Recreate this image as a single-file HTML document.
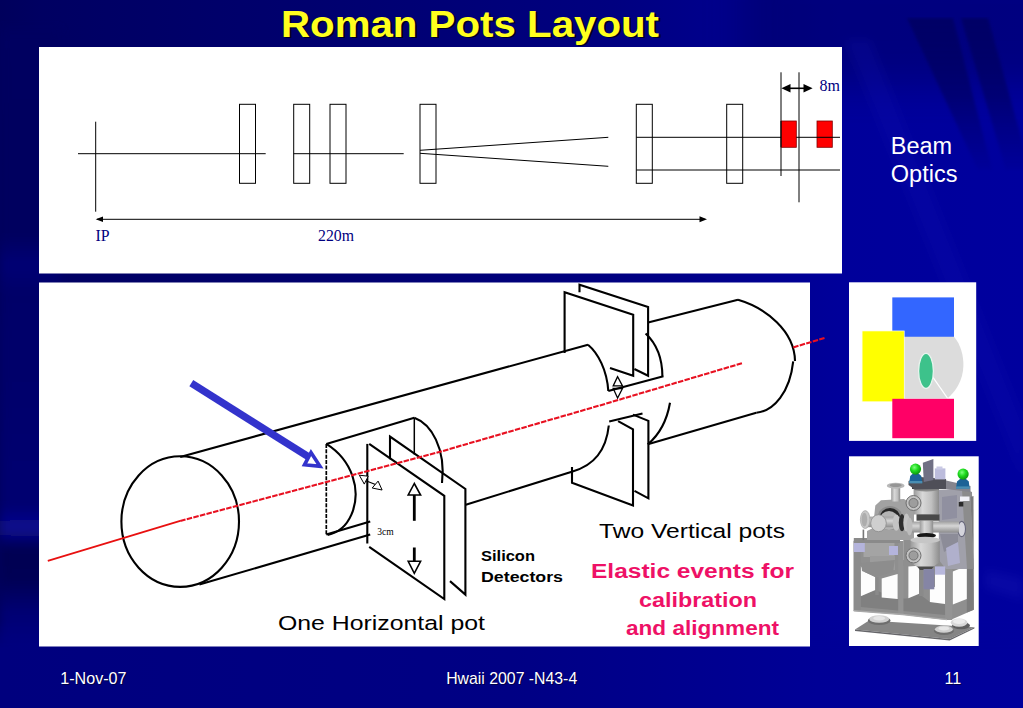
<!DOCTYPE html>
<html><head><meta charset="utf-8"><title>Roman Pots Layout</title>
<style>
html,body{margin:0;padding:0;background:#000070;overflow:hidden}
svg{display:block}
text{font-family:"Liberation Sans",sans-serif}
.ser{font-family:"Liberation Serif",serif}
</style></head><body>
<svg width="1023" height="708" viewBox="0 0 1023 708">
<defs>
<linearGradient id="bgx" x1="0" y1="0" x2="1" y2="0">
<stop offset="0" stop-color="#00005c"/><stop offset="0.04" stop-color="#000062"/><stop offset="0.3" stop-color="#00006e"/><stop offset="0.6" stop-color="#000080"/><stop offset="0.82" stop-color="#00009a"/><stop offset="1" stop-color="#00009e"/>
</linearGradient>
<linearGradient id="fadeY" x1="0" y1="0" x2="0" y2="1">
<stop offset="0" stop-color="#fff" stop-opacity="1"/><stop offset="0.5" stop-color="#fff" stop-opacity="0.8"/><stop offset="1" stop-color="#fff" stop-opacity="0"/>
</linearGradient>
<mask id="mfade" maskUnits="userSpaceOnUse" x="850" y="0" width="180" height="200"><rect x="850" y="17" width="180" height="160" fill="url(#fadeY)"/></mask>
<filter id="blur2" x="-10%" y="-10%" width="120%" height="120%"><feGaussianBlur stdDeviation="1.5"/></filter>
<filter id="blur5" x="-20%" y="-20%" width="140%" height="140%"><feGaussianBlur stdDeviation="5"/></filter>
<linearGradient id="leftv" x1="0" y1="0" x2="0" y2="1">
<stop offset="0" stop-color="#000060"/><stop offset="0.30" stop-color="#00005e"/><stop offset="0.345" stop-color="#000074"/><stop offset="0.39" stop-color="#000068"/>
<stop offset="0.70" stop-color="#000070"/><stop offset="0.735" stop-color="#0a0a90"/><stop offset="0.765" stop-color="#000052"/><stop offset="0.81" stop-color="#000054"/>
<stop offset="0.86" stop-color="#000074"/><stop offset="0.93" stop-color="#000080"/><stop offset="1" stop-color="#000080"/>
</linearGradient>
<linearGradient id="both" x1="0" y1="0" x2="1" y2="0">
<stop offset="0" stop-color="#00007e"/><stop offset="0.5" stop-color="#000084"/><stop offset="0.8" stop-color="#000096"/><stop offset="1" stop-color="#00009c"/>
</linearGradient>
<linearGradient id="fadeUp" x1="0" y1="0" x2="0" y2="1"><stop offset="0" stop-color="#fff" stop-opacity="0"/><stop offset="1" stop-color="#fff" stop-opacity="1"/></linearGradient>
<mask id="mbot" maskUnits="userSpaceOnUse" x="0" y="600" width="1023" height="108"><rect x="0" y="620" width="1023" height="30" fill="url(#fadeUp)"/><rect x="0" y="650" width="1023" height="60" fill="#fff"/></mask>
<filter id="blur20" x="-30%" y="-60%" width="160%" height="220%"><feGaussianBlur stdDeviation="18"/></filter>
</defs>
<rect x="0" y="0" width="1023" height="708" fill="url(#bgx)"/>
<rect x="0" y="30" width="60" height="678" fill="url(#leftv)" filter="url(#blur5)"/>
<rect x="0" y="600" width="1023" height="108" fill="url(#both)" mask="url(#mbot)"/>
<rect x="740" y="-40" width="330" height="125" fill="#000058" opacity="0.42" filter="url(#blur20)"/>
<g mask="url(#mfade)"><g filter="url(#blur2)">
<polygon points="907,18 953,18 992,170 978,170" fill="#00005c" opacity="0.7"/>
<polygon points="961,18 988,18 1030,170 1006,170" fill="#00005c" opacity="0.7"/>
</g></g>
<g filter="url(#blur5)" opacity="0.22">
<polygon points="845,40 870,40 1023,420 1023,480" fill="#1414b4"/>
<polygon points="985,570 1023,578 1023,600 985,588" fill="#2828c0"/>
</g>

<g id="title" font-size="37" font-weight="bold">
<text x="281" y="36.5" textLength="378" lengthAdjust="spacingAndGlyphs" fill="#000018" opacity="0.9" transform="translate(1.8,1.8)">Roman Pots Layout</text>
<text x="281" y="36.5" textLength="378" lengthAdjust="spacingAndGlyphs" fill="#ffff1e">Roman Pots Layout</text>
</g>

<g id="top">
<rect x="39" y="47" width="803" height="226.5" fill="#fff"/>
<g stroke="#000" stroke-width="1" fill="none">
<path d="M95.7 121.7L95.7 211.7"/>
<path d="M78 153.7L265.7 153.7"/>
<rect x="239.5" y="104.3" width="16.0" height="79.0"/>
<rect x="293.7" y="104.3" width="16.0" height="79.0"/>
<rect x="330" y="104.3" width="16" height="79.0"/>
<rect x="420" y="104.3" width="16" height="79.0"/>
<rect x="636.3" y="104.3" width="16.0" height="79.0"/>
<rect x="726.7" y="104.3" width="16.0" height="79.0"/>
<path d="M293.7 153.7L403.7 153.7"/>
<path d="M420 150.3L608.3 137.3"/>
<path d="M420 153.3L608.3 166.3"/>
<path d="M636.3 137.3L781 137.3"/>
<path d="M636.3 170L840 170"/>
<path d="M781 72.3L781 176"/>
<path d="M799 72.3L799 202.3"/>
<path d="M97 219.3L705 219.3"/>
<path d="M786 88.3H808" stroke-width="1.6"/>
</g>
<polygon points="95.7,219.3 103,216.6 103,222" fill="#000"/>
<polygon points="707,219.3 699.5,216.3 699.5,222.3" fill="#000"/>
<polygon points="781.4,88.3 790.5,84.1 790.5,92.5" fill="#000"/>
<polygon points="812.6,88.3 803.5,84.1 803.5,92.5" fill="#000"/>
<rect x="781.3" y="121" width="15" height="26.3" fill="#ff0000" stroke="#800000" stroke-width="0.8"/>
<rect x="817" y="121" width="15.3" height="26.3" fill="#ff0000" stroke="#800000" stroke-width="0.8"/>
<path stroke="#000" stroke-width="1" d="M781 121L781 147.3"/>
<path d="M796.3 137.3H840" stroke="#000" stroke-width="1"/>
<text class="ser" x="95.5" y="240.6" font-size="15.8" fill="#000080">IP</text>
<text class="ser" x="318" y="240.6" font-size="15.8" fill="#000080">220m</text>
<text class="ser" x="819.6" y="91" font-size="16" fill="#000080">8m</text>
</g>

<g id="cyl">
<rect x="39" y="282.5" width="771" height="364" fill="#fff"/>
<g stroke="#000" stroke-width="2.1" fill="none" stroke-linecap="butt" stroke-linejoin="miter">
<ellipse cx="180.2" cy="521.6" rx="58.8" ry="65.3"/>
<path d="M180.2 457L588 344.7"/>
<path d="M588 344.7C598 353 607 370 608.3 391"/>
<path d="M608.3 391L663.4 376.3"/>
<path d="M199.4 584.6L370.2 534.6"/>
<path d="M465.8 504.8L572.6 471.4"/>
<path d="M572.6 471.4C592 466 606 452 608.8 425.5"/>
<path d="M326.3 443.9L414.3 417.8"/>
<path d="M326.3 443.9V534.5" stroke-dasharray="4 1.4" stroke-width="1.7"/>
<path d="M414.3 417.8V454.5" stroke-width="1.5"/>
<path d="M414.3 417.8C431 424 446 448 442 483"/>
<path d="M326.3 443.9C352 460 362 490 351.4 514.7C346 527 338 533 327.7 534.9"/>
<path d="M326.3 534.5L370.2 521.5"/>
<path d="M367.3 443.9V543.5"/>
<path d="M369.2 443.9L444.3 495.9V599L369.2 546.9"/>
<path d="M390 459.3V436.6L465.4 489V594.6L450 581.1"/>
<path d="M564.6 352.9V292.2L633.2 314.7V375.8L610 368.1"/>
<path d="M579.5 292.2V284.7L648.1 307.1V375.8L634.4 369"/>
<path d="M645.6 333.4C657 344 662.4 358 662.4 376.6"/>
<path d="M648.1 322.4L738 299.8"/>
<path d="M738 299.8C766 308 794.5 331 795 360.9"/>
<path d="M793.2 361.4C790 392 774 411 756.3 412.8"/>
<path d="M756.3 412.8L647.8 444.3"/>
<path d="M670 402.7C667 420 660 434 647.8 444.3"/>
<path d="M609.2 421.5L642.5 413.6"/>
<path d="M633 414.6L648.4 420.9V498.3L634.5 490.8"/>
<path d="M618.1 421.1L633 429.4V505.6L572 482.8V467"/>
</g>
<g stroke="#000" fill="#fff">
<path d="M414.3 483.5L408.2 495H420.6Z" stroke-width="1.6"/>
<path d="M414.3 495V520.8" stroke-width="2.8" fill="none"/>
<path d="M414.3 547.5V561.3" stroke-width="2.8" fill="none"/>
<path d="M408.2 561.3H420.6L414.3 573.3Z" stroke-width="1.6"/>
<path d="M364 480L378 485.5" stroke-width="1.2"/>
<path d="M359.3 475.2L368.2 476.2L364.3 484.1Z" stroke-width="1"/>
<path d="M382.1 490L372.2 488L378.1 481.1Z" stroke-width="1"/>
<path d="M617.6 376.6L613.2 385.9H622.5Z" stroke-width="1.3" fill="none"/>
<path d="M613.2 388.5H622.5L617.6 398.1Z" stroke-width="1.3" fill="none"/>
</g>
<path d="M47.8 560.9L180.2 520.9" stroke="#e81010" stroke-width="1.8" fill="none"/>
<path d="M180.2 520.9L440 451.8L600 405.4L742.3 363.1" stroke="#e81020" stroke-width="2.1" fill="none" stroke-dasharray="5.5 1.3"/>
<path d="M793.2 347.4L824.5 338" stroke="#e81020" stroke-width="2.1" fill="none" stroke-dasharray="5.5 1.3"/>
<path d="M191.3 383.2L309 457.2" stroke="#3333cc" stroke-width="7.3" fill="none"/>
<path d="M311 452.5L304.5 464.8L320 466.3Z" stroke="#3333cc" stroke-width="3.6" fill="#fff" stroke-linejoin="miter"/>
<text class="ser" x="377.3" y="534.5" font-size="9.5" fill="#000">3cm</text>
</g>

<g id="right">
<rect x="849" y="282.3" width="127.2" height="158.6" fill="#fff"/>
<rect x="892.3" y="297.4" width="61.7" height="39.6" fill="#3366ff"/>
<path d="M903 336.8H954C961 345 963.6 356 963.4 366C963 380 956 391 947.4 398.6H903Z" fill="#dcdcdc"/>
<path d="M932.5 376.7L947.8 398.6" stroke="#fff" stroke-width="1.2" fill="none"/>
<ellipse cx="926" cy="370.9" rx="7.4" ry="17.6" fill="#3dc28b" stroke="#e8f4ee" stroke-width="1.3"/>
<rect x="861.8" y="330.6" width="42.8" height="71.4" fill="#ffffe0"/>
<rect x="862.5" y="331.3" width="41.4" height="70" fill="#ffff00"/>
<rect x="892.3" y="398.8" width="61.7" height="39.4" fill="#ff0066"/>
<rect x="849" y="456.3" width="129.7" height="189.7" fill="#fff"/>
</g>

<g id="cad">
<defs><filter id="b05" x="-5%" y="-5%" width="110%" height="110%"><feGaussianBlur stdDeviation="0.55"/></filter>
<radialGradient id="gball" cx="0.4" cy="0.35" r="0.7"><stop offset="0" stop-color="#7dff7d"/><stop offset="0.45" stop-color="#1fdc1f"/><stop offset="1" stop-color="#0a8a0a"/></radialGradient>
<linearGradient id="cylg" x1="0" x2="1" y1="0" y2="0"><stop offset="0" stop-color="#9a9a9a"/><stop offset="0.35" stop-color="#d8d8d8"/><stop offset="0.7" stop-color="#c0c0c0"/><stop offset="1" stop-color="#8c8c8c"/></linearGradient>
<linearGradient id="cylv" x1="0" x2="0" y1="0" y2="1"><stop offset="0" stop-color="#a0a0a0"/><stop offset="0.4" stop-color="#d6d6d6"/><stop offset="1" stop-color="#8e8e8e"/></linearGradient>
</defs>
<g filter="url(#b05)">
<polygon points="855,629.6 869,620.5 974.4,627.2 949.6,639" fill="#858585"/>
<polygon points="855,629.6 949.6,639 974.4,627.2 974.4,628.6 949.6,640.6 855,631" fill="#66666a"/>
<polygon points="853.7,541 900,541 900,560 946,560 946,500 960,488 972,492 973.8,609.7 952.1,619.3 947,620 902.7,614.8 853.7,611" fill="#8f8f8f"/>
<polygon points="860.7,596.3 875.3,590 897.6,598.9 908.4,598.2 919.1,593.8 929.9,602 945.2,604 945.2,615 902.7,611 860.7,607" fill="#808080"/>
<polygon points="966.8,498 973.5,496 973.8,609.7 966.8,612.5" fill="#7c7c7c"/>
<polygon points="860.7,566 865.2,572.2 875.3,577.3 875.3,590 860.7,596.3" fill="#fdfdfd"/>
<polygon points="881.7,578.5 897.6,574 897.6,598.9 881.7,597.6" fill="#fdfdfd"/>
<polygon points="908.4,566.4 919.1,565.8 919.1,593.8 908.4,598.2" fill="#fdfdfd"/>
<polygon points="929.9,588.7 935,586.8 935,574 945.2,574 945.2,604 929.9,602" fill="#fdfdfd"/>
<polygon points="952.8,571.5 966.8,565.8 966.8,598.9 952.8,604.6" fill="#fdfdfd"/>
<rect x="853.7" y="541" width="7" height="70" fill="#8b8b8b"/>
<rect x="898.2" y="541" width="5.2" height="73.5" fill="#939393"/>
<rect x="945.2" y="560" width="7" height="60" fill="#949494"/>
<rect x="919.1" y="566" width="4.6" height="30" fill="#8a8a8a"/>
<polygon points="853.7,610 902.7,613.8 947,619 947,620.3 902.7,615.2 853.7,611.4" fill="#a9a9a9"/>
<ellipse cx="879.2" cy="620.6" rx="11.4" ry="4.3" fill="#6e6e6e"/>
<ellipse cx="879.2" cy="619" rx="10" ry="3.8" fill="#d2d2d2"/>
<ellipse cx="879.2" cy="618.2" rx="6" ry="2.2" fill="#e6e6e6"/>
<ellipse cx="943.9" cy="631" rx="10" ry="4" fill="#6e6e6e"/>
<ellipse cx="943.9" cy="629.2" rx="9" ry="3.6" fill="#cfcfcf"/>
<ellipse cx="943.9" cy="628.4" rx="5.5" ry="2" fill="#e6e6e6"/>
<ellipse cx="961" cy="625.6" rx="9" ry="3.6" fill="#5e5e5e"/>
<ellipse cx="959.1" cy="622.6" rx="8.4" ry="4.2" fill="#d8d8d8"/>
<ellipse cx="959.1" cy="621.4" rx="6" ry="2.6" fill="#ececec"/>
<rect x="863.5" y="541" width="31" height="16" fill="#a4a4a4"/>
<rect x="870" y="556" width="25" height="14" fill="#9c9c9c"/>
<polygon points="861,563 895,560 893,572 876,577 862,571" fill="#8d8d8d"/>
<rect x="853.8" y="540" width="11" height="12" fill="#b4b4dc"/>
<rect x="889" y="546" width="9" height="9" fill="#b4b4dc"/>
<rect x="875.3" y="577" width="3.4" height="18" fill="#8a8a8a"/>
<polygon points="853.8,538 900,538 900,543 853.8,543" fill="#8a8a8a"/>
<polygon points="875.3,505.4 881,500.3 904,499 914,505.4 914,540 867,540 867,531 873,528" fill="#a2a2a2"/>
<polygon points="903.3,540 914,540 914,566 903.3,566" fill="#8f8f8f"/>
<ellipse cx="890" cy="518" rx="12.5" ry="12" fill="#8c8c8c"/>
<ellipse cx="890" cy="518.5" rx="10.5" ry="10.5" fill="#262626"/>
<ellipse cx="889" cy="520.5" rx="9.5" ry="9.5" fill="#b4b4b4"/>
<rect x="862.6" y="529.6" width="1.6" height="10.5" fill="#777"/>
<rect x="865" y="516.6" width="40" height="10.6" fill="url(#cylv)"/>
<ellipse cx="865.2" cy="519.6" rx="4.8" ry="9" fill="#c8c8c8" stroke="#9a9a9a" stroke-width="0.6"/>
<ellipse cx="864.4" cy="519.6" rx="2.8" ry="6.8" fill="#adadad"/>
<ellipse cx="878.5" cy="523.2" rx="7.8" ry="8.5" fill="#cfcfcf" stroke="#8a8a8a" stroke-width="0.8"/>
<ellipse cx="896.3" cy="522.6" rx="3.6" ry="8.2" fill="#c4c4c4"/>
<ellipse cx="902" cy="522.6" rx="3.2" ry="8.6" fill="#2e2e2e"/>
<ellipse cx="906.5" cy="522.6" rx="3.2" ry="9" fill="#c4c4c4"/>
<rect x="891.2" y="487" width="9" height="14.5" fill="url(#cylg)"/>
<ellipse cx="895.7" cy="485.7" rx="8.9" ry="3" fill="#b8b8b8"/>
<ellipse cx="895.7" cy="485.2" rx="6" ry="1.7" fill="#959595"/>
<polygon points="938.8,490 965,488 970,490 973.8,569 946,569 938.8,560" fill="#a0a0aa"/>
<polygon points="962,490 970,490 973.8,569 967,569" fill="#8c8c8c"/>
<polygon points="942,497 957,495 957,518 942,520" fill="#9090a0"/>
<polygon points="940,534 958,534 958,545 944,552" fill="#8c8c98"/>
<polygon points="946,548 958,542 960,563 948,566" fill="#b0b0cc"/>
<rect x="960" y="496.5" width="9.5" height="4.5" fill="#f2f2f8"/>
<rect x="958.8" y="502" width="4.5" height="4.5" fill="#2a2a2a"/>
<ellipse cx="961.7" cy="529" rx="3.8" ry="7.6" fill="#d4d4dc" stroke="#66667a" stroke-width="1.1"/>
<rect x="909" y="521.5" width="50" height="11" fill="url(#cylv)"/>
<ellipse cx="909.5" cy="526.5" rx="3" ry="9" fill="#bcbcbc"/>
<rect x="913.6" y="489" width="25.4" height="25.5" fill="url(#cylg)"/>
<rect x="916.5" y="514.3" width="23" height="6.4" fill="#4a4a4a"/>
<ellipse cx="926.4" cy="489" rx="12.6" ry="2.6" fill="#8a8a8a"/>
<polygon points="912,484 941,484 941,489 912,489" fill="#3c3c40"/>
<ellipse cx="913.5" cy="503" rx="7.5" ry="7.5" fill="#c2c2c2" stroke="#6f6f6f" stroke-width="1"/>
<ellipse cx="913.5" cy="503" rx="4.6" ry="4.6" fill="#9d9d9d" stroke="#5c5c5c" stroke-width="0.7"/>
<rect x="919.7" y="520.7" width="13.5" height="14" fill="url(#cylg)"/>
<ellipse cx="926.4" cy="535.6" rx="9.6" ry="2.6" fill="#161616"/>
<polygon points="910.5,540 939.8,540 939.8,562 933,567 917,567 910.5,562" fill="url(#cylg)"/>
<ellipse cx="925.2" cy="540" rx="14.7" ry="3.3" fill="#c6c6c6"/>
<ellipse cx="913.5" cy="555.5" rx="7.5" ry="7.5" fill="#c2c2c2" stroke="#6f6f6f" stroke-width="1"/>
<ellipse cx="913.5" cy="555.5" rx="4.6" ry="4.6" fill="#9d9d9d" stroke="#5c5c5c" stroke-width="0.7"/>
<polygon points="917,566.5 934,566.5 931,570 920,570" fill="#4a4a4a"/>
<rect x="923.5" y="569" width="10.8" height="20.3" fill="#8585a5"/>
<rect x="935" y="566.4" width="10.2" height="8.3" fill="#b8b8dc"/>
<polygon points="908.5,481 920,477 946,479 947,489 915,489.5 908.5,485" fill="#505058"/>
<polygon points="946,480.5 970.5,486 970.5,492 946,489" fill="#85858e"/>
<polygon points="922.8,462.8 933.4,459 933.4,480 923.8,482" fill="#6f6f84"/>
<rect x="934.8" y="468.4" width="10.6" height="11" fill="#bcbcdc"/>
<rect x="936.5" y="466.5" width="6" height="3" fill="#c9c9e4"/>
<polygon points="909.2,483 910.2,476 913,473.5 918.5,473.5 921.3,476 922.3,483" fill="#1b6296"/>
<rect x="909.2" y="481" width="13.1" height="2.4" fill="#4a8db2"/>
<polygon points="956,488.6 957,481.5 960,479 966,479 968.8,481.5 969.6,488.6" fill="#1b6296"/>
<rect x="956" y="486.4" width="13.6" height="2.4" fill="#4a8db2"/>
<ellipse cx="915.5" cy="469.1" rx="5.6" ry="5.6" fill="url(#gball)"/>
<ellipse cx="963.1" cy="474.1" rx="5.6" ry="5.6" fill="url(#gball)"/>
</g>
</g>

<g id="txt" fill="#fff">
<text x="890.8" y="153.6" font-size="23.5">Beam</text>
<text x="890.8" y="182.2" font-size="23.5">Optics</text>
<g font-size="16.1"><g fill="#000030" opacity="0.7" transform="translate(1,1)">
<text x="60.3" y="683.6">1-Nov-07</text>
<text x="446.2" y="683.8" textLength="131" lengthAdjust="spacingAndGlyphs">Hwaii 2007 -N43-4</text>
<text x="944.6" y="683.6">11</text></g>
<text x="60.3" y="683.6">1-Nov-07</text>
<text x="446.2" y="683.8" textLength="131" lengthAdjust="spacingAndGlyphs">Hwaii 2007 -N43-4</text>
<text x="944.6" y="683.6">11</text></g>
</g>
<text x="278" y="629.8" font-size="20.5" fill="#000" textLength="207" lengthAdjust="spacingAndGlyphs">One Horizontal pot</text>
<text x="599" y="538.4" font-size="20.5" fill="#000" textLength="186" lengthAdjust="spacingAndGlyphs">Two Vertical pots</text>
<text x="481" y="560.6" font-size="14" font-weight="bold" fill="#000" textLength="54" lengthAdjust="spacingAndGlyphs">Silicon</text>
<text x="481" y="581.6" font-size="14" font-weight="bold" fill="#000" textLength="82" lengthAdjust="spacingAndGlyphs">Detectors</text>
<text x="591" y="578.35" font-size="19.5" font-weight="bold" fill="#ee1166" textLength="203" lengthAdjust="spacingAndGlyphs">Elastic events for</text>
<text x="639" y="607.15" font-size="19.5" font-weight="bold" fill="#ee1166" textLength="118" lengthAdjust="spacingAndGlyphs">calibration</text>
<text x="626" y="634.55" font-size="19.5" font-weight="bold" fill="#ee1166" textLength="153" lengthAdjust="spacingAndGlyphs">and alignment</text>

</svg>
</body></html>
